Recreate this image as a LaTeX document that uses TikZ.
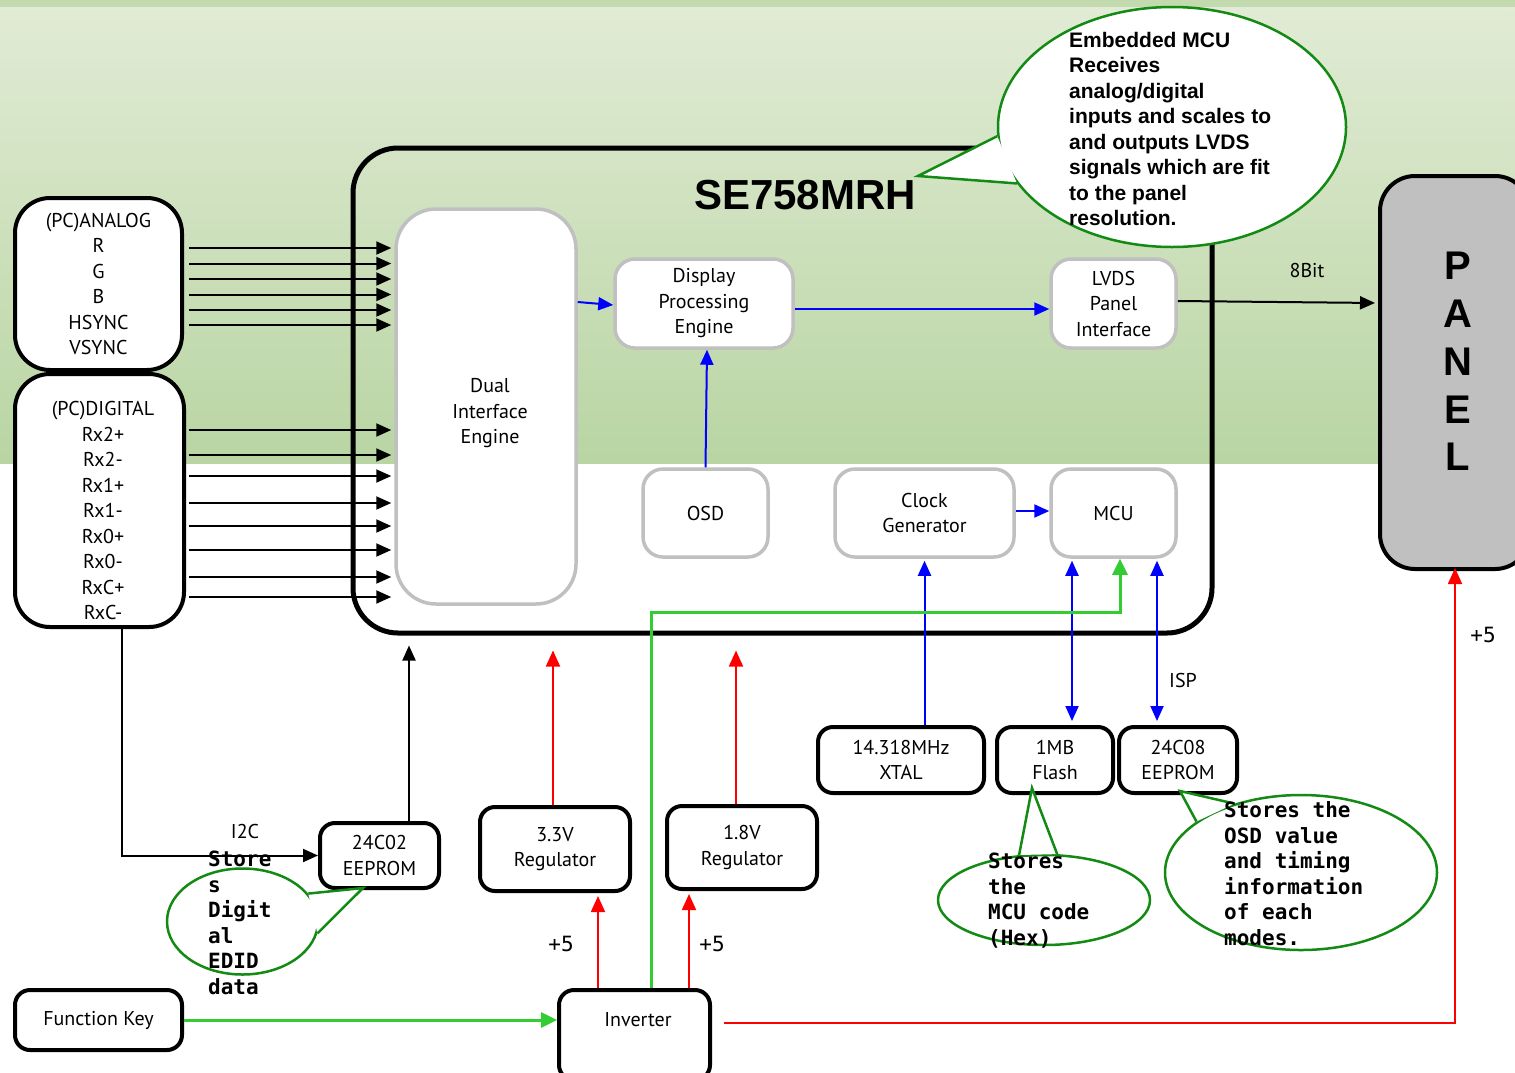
\documentclass[tikz,border=0pt]{standalone}
\usepackage{fontspec}
\setmainfont{PT Sans}
\newfontfamily\labf{PT Sans}
\newfontfamily\arb{Liberation Sans}
\newfontfamily\monof{DejaVu Sans Mono}
\usetikzlibrary{arrows.meta,calc,shapes.geometric}
\definecolor{bgtop}{HTML}{E1EBD5}
\definecolor{bgbot}{HTML}{B9D5A3}
\definecolor{band}{HTML}{C3DAAE}
\definecolor{grayb}{HTML}{C0C0C0}
\definecolor{callg}{HTML}{138A13}
\definecolor{lgreen}{HTML}{33CC33}
\begin{document}
\begin{tikzpicture}[x=1pt,y=-1pt,
  lab/.style={font=\labf\fontsize{20}{25.5}\selectfont,align=center},
  bbox/.style={lab,draw=black,line width=4pt,rounded corners=15pt,fill=white,inner sep=0pt},
  gbox/.style={lab,draw=grayb,line width=3.5pt,rounded corners=20pt,fill=white,inner sep=0pt},
  call/.style={ellipse,draw=callg,line width=2.5pt,fill=white,inner sep=0pt},
  ctail/.style={draw=callg,line width=2.5pt,line join=miter},
  ctext/.style={font=\monof\bfseries\fontsize{21}{25.5}\selectfont,align=left,anchor=west,inner sep=0pt},
  plus/.style={font=\monof\fontsize{21}{25}\selectfont,inner sep=0pt},
  blk/.style={line width=2pt,-{Triangle[length=15pt,width=13pt]}},
  blu/.style={draw=blue,line width=2pt,-{Triangle[length=15pt,width=13pt]}},
  blu2/.style={draw=blue,line width=2pt,{Triangle[length=15pt,width=13pt]}-{Triangle[length=15pt,width=13pt]}},
  redl/.style={draw=red,line width=1.8pt,-{Triangle[length=16pt,width=14pt]}},
  grn/.style={draw=lgreen,line width=3pt,-{Triangle[length=16pt,width=15pt]}}]
\useasboundingbox (0,0) rectangle (1515,1072);
% background
\fill[white] (0,0) rectangle (1515,1072);
\shade[top color=bgtop,bottom color=bgbot] (0,7) rectangle (1515,463);
\fill[band] (0,0) rectangle (1515,7);

% main chip
\node[draw,line width=5pt,rounded corners=45pt,minimum width=859,minimum height=485,inner sep=0pt] (chip) at (782.5,390.5) {};
\node[font=\arb\bfseries\fontsize{42}{42}\selectfont,inner sep=0pt] (title) at (805,195) {SE758MRH};

% inner blocks
\node[gbox,rounded corners=40pt,minimum width=180,minimum height=395] (dual) at (486,406.5) {};
\node[lab,inner sep=0pt] (dualT) at (490,413.5) {Dual\\Interface\\Engine};
\node[gbox,minimum width=178,minimum height=89] (dpe) at (704,303.5) {Display\\Processing\\Engine};
\node[gbox,minimum width=125,minimum height=89] (lvds) at (1113.5,303.5) {LVDS\\Panel\\Interface};
\node[gbox,minimum width=125,minimum height=88] (osd) at (705.5,513) {OSD};
\node[gbox,minimum width=179,minimum height=88] (clock) at (924.5,513) {Clock\\Generator};
\node[gbox,minimum width=125,minimum height=88] (mcu) at (1113.5,513) {MCU};

% left inputs
\node[bbox,rounded corners=35pt,minimum width=167,minimum height=172] (analog) at (98.5,284) {(PC)ANALOG\\R\\G\\B\\HSYNC\\VSYNC};
\node[bbox,rounded corners=35pt,minimum width=169,minimum height=253] (digital) at (99.5,500.5) {};
\node[lab,inner sep=0pt] (digitalT) at (103,510.5) {(PC)DIGITAL\\Rx2+\\Rx2-\\Rx1+\\Rx1-\\Rx0+\\Rx0-\\RxC+\\RxC-};

\foreach \yy in {248,263.5,279,294.5,310,325}
  \draw[blk,shorten >=3pt,shorten <=5pt] (analog.east |- 0,\yy) -- (dual.west |- 0,\yy);
\foreach \yy in {430,455,476,503,526,550,577,597}
  \draw[blk,shorten >=3pt,shorten <=3pt] (digital.east |- 0,\yy) -- (dual.west |- 0,\yy);

% panel
\node[draw,line width=4pt,rounded corners=35pt,fill=grayb,minimum width=150,minimum height=393,inner sep=0pt] (panel) at (1455,372.5) {};
\node[font=\arb\bfseries\fontsize{40}{47.75}\selectfont,align=center,inner sep=0pt] (panelT) at (1458,361.5) {P\\A\\N\\E\\L};

% bottom boxes
\node[bbox,minimum width=119,minimum height=65] (e02) at (379.5,855.5) {24C02\\EEPROM};
\node[bbox,minimum width=150,minimum height=84] (r33) at (555,849) {3.3V\\Regulator};
\node[bbox,minimum width=150,minimum height=83] (r18) at (742,847.5) {1.8V\\Regulator};
\node[bbox,minimum width=166,minimum height=66] (xtal) at (901,760) {14.318MHz\\XTAL};
\node[bbox,minimum width=116,minimum height=66] (flash) at (1055,760) {1MB\\Flash};
\node[bbox,minimum width=118,minimum height=66] (e08) at (1178,760) {24C08\\EEPROM};
\node[bbox,minimum width=167,minimum height=60] (fkey) at (98.5,1020) {Function Key};
\node[bbox,minimum width=151,minimum height=90] (inv) at (634.5,1035) {};
\node[lab,inner sep=0pt] (invT) at (638,1020) {Inverter};

% blue connectors
\draw[blu] (dual.east |- 0,302) -- (dpe.west |- 0,305);
\draw[blu] (dpe.east |- 0,309) -- (lvds.west |- 0,309);
\draw[blu] (osd.north) -- ([xshift=3pt]dpe.south);
\draw[blu] (clock.east |- 0,511) -- (mcu.west |- 0,511);
\draw[blu,shorten >=2pt] (clock.south |- xtal.north) -- (clock.south);
\draw[blu2,shorten >=4pt,shorten <=2pt] (mcu.south -| 1072,0) -- (flash.north -| 1072,0);
\draw[blu2,shorten >=4pt,shorten <=2pt] (mcu.south -| 1157,0) -- (e08.north -| 1157,0);
\node[lab,inner sep=0pt] (isp) at (1183,680) {ISP};

% green connectors
\draw[grn] (inv.north -| 651,0) |- (1120,612) -- (mcu.south -| 1120,0);
\draw[grn] (fkey.east) -- (inv.west |- fkey.east);

% black connectors
\draw[blk,shorten >=3pt] (lvds.east |- 0,301) -- (panel.west |- 0,303);
\node[lab,inner sep=0pt] (bit8) at (1307,270) {8Bit};
\draw[blk] (digital.south -| 122,0) |- (e02.west);
\node[lab,inner sep=0pt] (i2c) at (245,831) {I2C};
\draw[blk,shorten >=10pt] (e02.north -| 409,0) -- (chip.south -| 409,0);

% red connectors
\draw[redl,shorten >=15pt] (r33.north -| 553,0) -- (chip.south -| 553,0);
\draw[redl,shorten >=15pt] (r18.north -| 736,0) -- (chip.south -| 736,0);
\draw[redl,shorten >=3pt] (inv.north -| 598,0) -- (r33.south -| 598,0);
\draw[redl,shorten >=3pt] (inv.north -| 689,0) -- (r18.south -| 689,0);
\draw[redl,shorten <=12pt,shorten >=-3pt] (inv.east |- 0,1023) -| (panel.south);
\node[plus] (p1) at (561,944) {+5};
\node[plus] (p2) at (712,944) {+5};
\node[plus] (p3) at (1483,635) {+5};

% top callout
\node[call,minimum width=348,minimum height=240] (c1) at (1172,127) {};
\coordinate (t1) at (918,176);
\fill[white] (c1.183) -- (t1) -- (c1.200) -- cycle;
\draw[ctail] (c1.183) -- (t1) -- (c1.200);
\node[font=\arb\bfseries\fontsize{21}{25.5}\selectfont,align=left,anchor=west,inner sep=0pt] (c1T) at (1069,129)
  {Embedded MCU\\Receives\\analog/digital\\inputs and scales to\\and outputs LVDS\\signals which are fit\\to the panel\\resolution.};

% EDID callout
\node[call,minimum width=151,minimum height=106] (c2) at (242.5,921.5) {};
\coordinate (t2) at (363,888);
\fill[white] (c2.23) -- (t2) -- (c2.351) -- cycle;
\draw[ctail] (c2.23) -- (t2) -- (c2.351);
\node[ctext] (c2T) at (208,923) {Store\\s\\Digit\\al\\EDID\\data};

% Flash callout
\node[call,minimum width=212,minimum height=90] (c3) at (1044,900) {};
\coordinate (t3) at (1032,788);
\fill[white] (c3.119) -- (t3) -- (c3.74) -- cycle;
\draw[ctail] (c3.119) -- (t3) -- (c3.74);
\node[ctext] (c3T) at (988,900.5) {Stores\\the\\MCU code\\(Hex)};

% EEPROM callout
\node[call,minimum width=272,minimum height=155] (c4) at (1301,872.5) {};
\coordinate (t4) at (1180,791);
\fill[white] (c4.154) -- (t4) -- (c4.134) -- cycle;
\draw[ctail] (c4.154) -- (t4) -- (c4.134);
\node[ctext] (c4T) at (1224,873.5) {Stores the\\OSD value\\and timing\\information\\of each\\modes.};
\end{tikzpicture}
\end{document}
